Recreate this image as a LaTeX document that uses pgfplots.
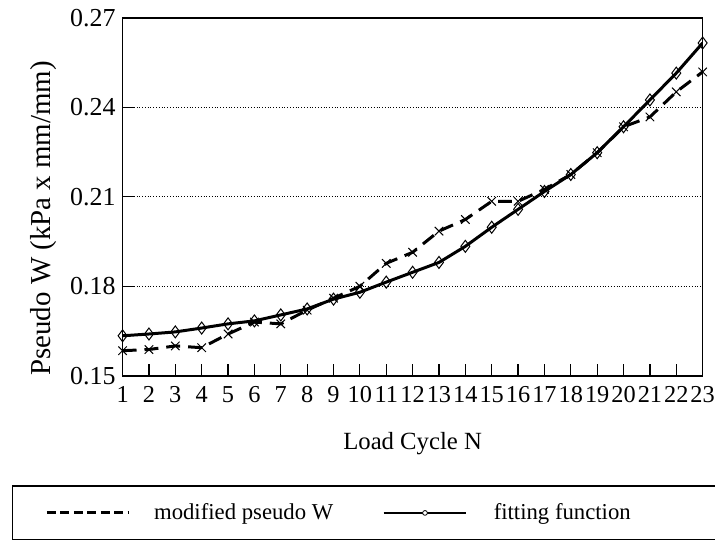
\documentclass[border=0pt]{standalone}
\usepackage{fontspec}
\setmainfont{Liberation Serif}
\usepackage{pgfplots}
\pgfplotsset{compat=1.18}

\newcommand{\fs}{\fontsize{12.4pt}{14pt}\selectfont}
\newcommand{\ft}{\fontsize{13pt}{14pt}\selectfont}
\newcommand{\fx}{\fontsize{12.2pt}{14pt}\selectfont}
\newcommand{\fl}{\fontsize{11.4pt}{13pt}\selectfont}

\begin{document}
\begin{tikzpicture}
\begin{axis}[
    scale only axis,
    width=291pt, height=179.5pt,
    xmin=1, xmax=23,
    ymin=0.15, ymax=0.27,
    xtick={1,2,...,23},
    ytick={0.15,0.18,0.21,0.24,0.27},
    tick pos=left,
    tick align=inside,
    major tick length=6pt,
    ymajorgrids,
    grid style={densely dotted, black, thin},
    axis line style={black, line width=0.8pt},
    tick style={black, line width=0.6pt},
    /pgf/number format/assume math mode=true,
    yticklabel style={font=\ft, /pgf/number format/.cd, fixed, fixed zerofill, precision=2},
    xticklabel style={font=\fx, yshift=-2pt, inner xsep=0pt},
    xlabel={Load Cycle N},
    ylabel={Pseudo W (kPa x mm/mm)},
    xlabel style={font=\fs, at={(axis description cs:0.5,-0.1894)}, anchor=center},
    ylabel style={font=\fontsize{14.5pt}{16pt}\selectfont,
        at={(axis description cs:-0.1366,0.44)}, anchor=center},
    legend columns=2,
    legend style={at={(axis description cs:-0.1907,-0.3064)}, anchor=north west,
        draw=black, line width=0.6pt, inner xsep=16.5pt, inner ysep=6.75pt,
        font=\fl, cells={anchor=west}},
]
\addplot[black, line width=1.5pt, dash pattern=on 7pt off 4pt,
    mark=x, mark size=3pt, mark options={solid, line width=0.5pt},
    legend image code/.code={
        \draw[black, line width=1.5pt, dash pattern=on 4.5pt off 2.25pt] (0pt,0pt) -- (41pt,0pt);
        \path (51pt,0pt);
    }] coordinates {
    (1,0.1584) (2,0.1588) (3,0.1600) (4,0.1594) (5,0.1640) (6,0.1680)
    (7,0.1674) (8,0.1720) (9,0.1760) (10,0.1800) (11,0.1877) (12,0.1914)
    (13,0.1985) (14,0.2024) (15,0.2085) (16,0.2085) (17,0.2125) (18,0.2175)
    (19,0.2248) (20,0.2335) (21,0.2368) (22,0.2452) (23,0.2519)
};
\addlegendentry{modified pseudo W}
\addplot[black, line width=1.5pt,
    mark=diamond, mark size=3pt, mark options={solid, line width=0.5pt, fill=white},
    legend image code/.code={
        \path (-22.5pt,0pt);
        \draw[black, line width=1.2pt] (0pt,0pt) -- (41.5pt,0pt);
        \draw[black, line width=0.4pt, fill=white] (20.75pt,0pt) circle (1.2pt);
        \path (52.5pt,0pt);
    }] coordinates {
    (1,0.1634) (2,0.1640) (3,0.1647) (4,0.1660) (5,0.1674) (6,0.1684)
    (7,0.1704) (8,0.1724) (9,0.1757) (10,0.1780) (11,0.1814) (12,0.1847)
    (13,0.1880) (14,0.1934) (15,0.1998) (16,0.2058) (17,0.2118) (18,0.2175)
    (19,0.2248) (20,0.2335) (21,0.2425) (22,0.2515) (23,0.2616)
};
\addlegendentry{fitting function\hspace*{75pt}}
\end{axis}
\pgfresetboundingbox
\path[use as bounding box] ([shift={(-61.5pt,-82.5pt)}]current axis.south west)
    rectangle ([shift={(6.2pt,9pt)}]current axis.north east);
\end{tikzpicture}
\end{document}
